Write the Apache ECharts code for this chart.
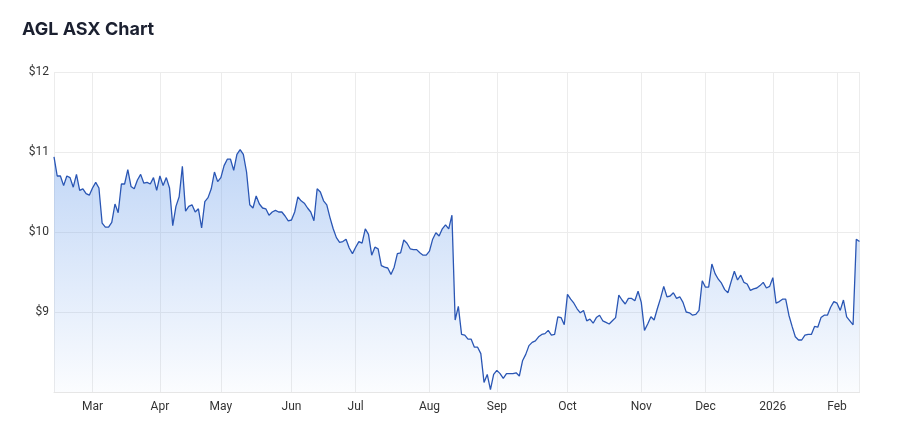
<!DOCTYPE html>
<html>
<head>
<meta charset="utf-8">
<script src="https://cdn.jsdelivr.net/npm/echarts@6/dist/echarts.min.js"></script>
<style>
html,body{margin:0;padding:0;background:#fff;}
#chart{width:900px;height:445px;}
</style>
</head>
<body>
<div id="chart"></div>
<script>
const dates = [
'2025-02-13','2025-02-14','2025-02-17','2025-02-18','2025-02-19','2025-02-20','2025-02-21','2025-02-24','2025-02-25','2025-02-26','2025-02-27','2025-02-28',
'2025-03-03','2025-03-04','2025-03-05','2025-03-06','2025-03-07','2025-03-10','2025-03-11','2025-03-12','2025-03-13','2025-03-14','2025-03-17','2025-03-18','2025-03-19','2025-03-20','2025-03-21','2025-03-24','2025-03-25','2025-03-26','2025-03-27','2025-03-28','2025-03-31',
'2025-04-01','2025-04-02','2025-04-03','2025-04-04','2025-04-07','2025-04-08','2025-04-09','2025-04-10','2025-04-11','2025-04-14','2025-04-15','2025-04-16','2025-04-17','2025-04-22','2025-04-23','2025-04-24','2025-04-28','2025-04-29','2025-04-30',
'2025-05-01','2025-05-02','2025-05-05','2025-05-06','2025-05-07','2025-05-08','2025-05-09','2025-05-12','2025-05-13','2025-05-14','2025-05-15','2025-05-16','2025-05-19','2025-05-20','2025-05-21','2025-05-22','2025-05-23','2025-05-26','2025-05-27','2025-05-28','2025-05-29','2025-05-30',
'2025-06-02','2025-06-03','2025-06-04','2025-06-05','2025-06-06','2025-06-10','2025-06-11','2025-06-12','2025-06-13','2025-06-16','2025-06-17','2025-06-18','2025-06-19','2025-06-20','2025-06-23','2025-06-24','2025-06-25','2025-06-26','2025-06-27','2025-06-30',
'2025-07-01','2025-07-02','2025-07-03','2025-07-04','2025-07-07','2025-07-08','2025-07-09','2025-07-10','2025-07-11','2025-07-14','2025-07-15','2025-07-16','2025-07-17','2025-07-18','2025-07-21','2025-07-22','2025-07-23','2025-07-24','2025-07-25','2025-07-28','2025-07-29','2025-07-30','2025-07-31',
'2025-08-01','2025-08-04','2025-08-05','2025-08-06','2025-08-07','2025-08-08','2025-08-11','2025-08-12','2025-08-13','2025-08-14','2025-08-15','2025-08-18','2025-08-19','2025-08-20','2025-08-21','2025-08-22','2025-08-25','2025-08-26','2025-08-27','2025-08-28','2025-08-29',
'2025-09-01','2025-09-02','2025-09-03','2025-09-04','2025-09-05','2025-09-08','2025-09-09','2025-09-10','2025-09-11','2025-09-12','2025-09-15','2025-09-16','2025-09-17','2025-09-18','2025-09-19','2025-09-22','2025-09-23','2025-09-24','2025-09-25','2025-09-26','2025-09-29','2025-09-30',
'2025-10-01','2025-10-02','2025-10-03','2025-10-06','2025-10-07','2025-10-08','2025-10-09','2025-10-10','2025-10-13','2025-10-14','2025-10-15','2025-10-16','2025-10-17','2025-10-20','2025-10-21','2025-10-22','2025-10-23','2025-10-24','2025-10-27','2025-10-28','2025-10-29','2025-10-30','2025-10-31',
'2025-11-03','2025-11-04','2025-11-05','2025-11-06','2025-11-07','2025-11-10','2025-11-11','2025-11-12','2025-11-13','2025-11-14','2025-11-17','2025-11-18','2025-11-19','2025-11-20','2025-11-21','2025-11-24','2025-11-25','2025-11-26','2025-11-27','2025-11-28',
'2025-12-01','2025-12-02','2025-12-03','2025-12-04','2025-12-05','2025-12-08','2025-12-09','2025-12-10','2025-12-11','2025-12-12','2025-12-15','2025-12-16','2025-12-17','2025-12-18','2025-12-19','2025-12-22','2025-12-23','2025-12-24','2025-12-29','2025-12-30','2025-12-31',
'2026-01-02','2026-01-05','2026-01-06','2026-01-07','2026-01-08','2026-01-09','2026-01-12','2026-01-13','2026-01-14','2026-01-15','2026-01-16','2026-01-19','2026-01-20','2026-01-21','2026-01-22','2026-01-23','2026-01-27','2026-01-28','2026-01-29','2026-01-30',
'2026-02-02','2026-02-03','2026-02-04','2026-02-05','2026-02-06','2026-02-09','2026-02-10','2026-02-11'
];

const prices = [
10.94,10.70,10.70,10.58,10.70,10.68,10.56,10.72,10.52,10.54,10.48,10.46,
10.55,10.62,10.55,10.11,10.06,10.06,10.12,10.35,10.24,10.60,10.60,10.78,10.57,10.54,10.65,10.72,10.61,10.62,10.60,10.68,10.52,
10.70,10.58,10.68,10.55,10.08,10.32,10.44,10.82,10.26,10.32,10.34,10.25,10.29,10.05,10.38,10.43,10.54,10.75,10.63,
10.68,10.83,10.91,10.91,10.77,10.97,11.03,10.97,10.75,10.34,10.30,10.45,10.35,10.30,10.29,10.21,10.25,10.27,10.25,10.25,10.20,10.14,
10.15,10.25,10.44,10.39,10.36,10.30,10.25,10.14,10.54,10.50,10.39,10.34,10.18,10.04,9.93,9.87,9.88,9.91,9.80,9.73,
9.81,9.88,9.86,10.04,9.97,9.71,9.81,9.79,9.58,9.56,9.55,9.47,9.56,9.73,9.74,9.90,9.86,9.79,9.78,9.78,9.74,9.71,9.71,
9.76,9.91,9.99,9.95,10.04,10.09,10.04,10.21,8.90,9.07,8.72,8.71,8.66,8.66,8.56,8.56,8.48,8.12,8.22,8.03,8.22,
8.27,8.23,8.17,8.23,8.23,8.23,8.24,8.20,8.39,8.47,8.58,8.62,8.64,8.69,8.72,8.73,8.77,8.71,8.72,8.94,8.93,8.84,
9.22,9.16,9.11,9.04,8.99,9.02,8.89,8.91,8.86,8.93,8.96,8.89,8.87,8.85,8.89,8.93,9.21,9.15,9.10,9.17,9.17,9.14,9.26,
9.12,8.77,8.85,8.94,8.90,9.04,9.17,9.32,9.19,9.20,9.24,9.17,9.19,9.12,9.00,8.99,8.96,8.97,9.02,9.39,
9.31,9.31,9.60,9.48,9.41,9.36,9.28,9.24,9.38,9.51,9.40,9.46,9.37,9.35,9.27,9.29,9.30,9.33,9.37,9.30,9.32,
9.43,9.11,9.13,9.16,9.16,8.96,8.82,8.69,8.65,8.65,8.71,8.72,8.72,8.82,8.81,8.93,8.96,8.96,9.06,9.13,
9.11,9.02,9.15,8.94,8.89,8.84,9.91,9.88
];

const monthNames = ['Jan','Feb','Mar','Apr','May','Jun','Jul','Aug','Sep','Oct','Nov','Dec'];
const yTicks = [9, 10, 11, 12];

function isMonthStart(idx) {
  if (idx <= 0) return false;
  return dates[idx].slice(5, 7) !== dates[idx - 1].slice(5, 7);
}
function monthLabel(value) {
  const m = parseInt(value.slice(5, 7), 10);
  if (m === 1) return value.slice(0, 4);
  return monthNames[m - 1];
}

const chart = echarts.init(document.getElementById('chart'), null, {renderer: 'canvas'});
chart.setOption({
  animation: false,
  backgroundColor: '#ffffff',
  title: {
    text: 'AGL ASX Chart',
    left: 17,
    top: 16,
    textStyle: {fontFamily: 'Inter', fontSize: 18, fontWeight: 'bold', color: '#1b2030'}
  },
  grid: {left: 54, right: 40.5, top: 72, bottom: 53, containLabel: false},
  xAxis: {
    type: 'category',
    data: dates,
    boundaryGap: false,
    axisLine: {show: true, lineStyle: {color: '#e6e6e6', width: 1}},
    axisTick: {show: false},
    axisLabel: {
      interval: function (idx) { return isMonthStart(idx); },
      formatter: function (v) { return monthLabel(v); },
      color: '#333333',
      fontFamily: 'Roboto',
      fontSize: 12,
      margin: 9
    },
    splitLine: {
      show: true,
      interval: function (idx) { return isMonthStart(idx) || idx === 0 || idx === dates.length - 1; },
      lineStyle: {color: '#ececec', width: 1}
    }
  },
  yAxis: {
    type: 'value',
    min: 8,
    max: 12,
    interval: 1,
    axisLine: {show: false},
    axisTick: {show: false},
    axisLabel: {
      formatter: function (v) { return yTicks.indexOf(v) >= 0 ? '$' + v : ''; },
      color: '#333333',
      fontFamily: 'Roboto',
      fontSize: 12,
      margin: 5
    },
    splitLine: {show: true, lineStyle: {color: '#ececec', width: 1}}
  },
  series: [{
    type: 'line',
    data: prices,
    symbol: 'none',
    smooth: false,
    lineStyle: {color: '#2a56b4', width: 1.3},
    areaStyle: {
      origin: 'start',
      color: new echarts.graphic.LinearGradient(0, 0, 0, 1, [
        {offset: 0, color: 'rgba(110,160,235,0.62)'},
        {offset: 1, color: 'rgba(110,160,235,0.04)'}
      ])
    }
  }]
});
</script>
</body>
</html>
